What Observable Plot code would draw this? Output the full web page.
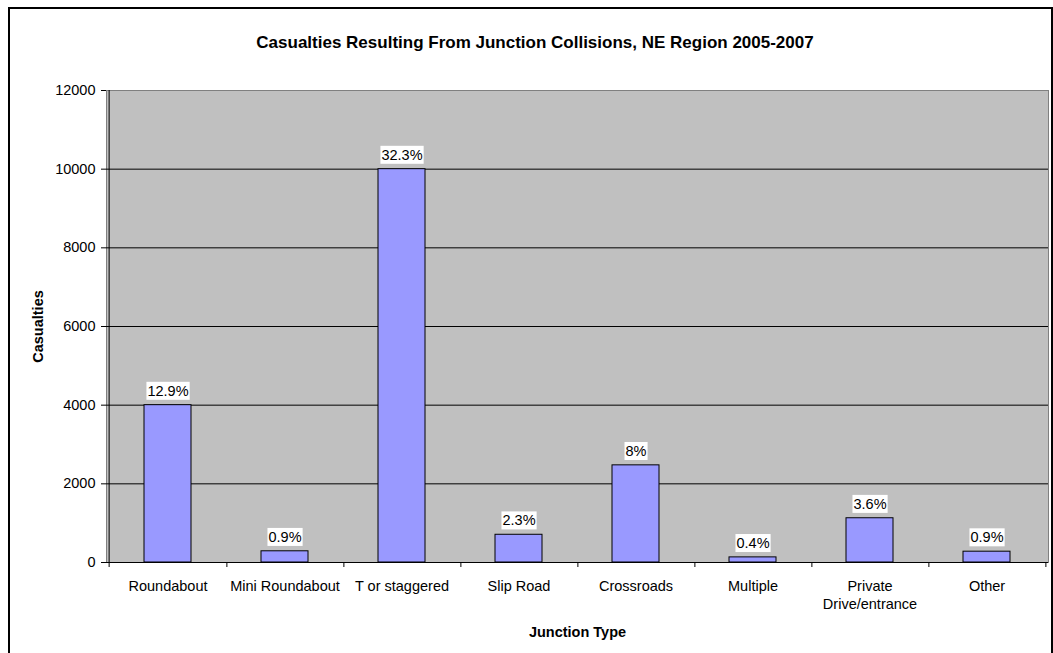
<!DOCTYPE html>
<html><head><meta charset="utf-8">
<script src="https://cdn.jsdelivr.net/npm/d3@7"></script>
<script src="https://cdn.jsdelivr.net/npm/@observablehq/plot@0.6"></script>
<style>
html,body{margin:0;padding:0;background:#fff;overflow:hidden;width:1053px;height:653px}
#wrap{position:relative;width:1053px;height:653px;font-family:"Liberation Sans",Arial,sans-serif;color:#000}
#frame{position:absolute;left:8px;top:7px;width:1041px;height:700px;border:2px solid #000;pointer-events:none}
#title{position:absolute;top:34px;left:535px;transform:translateX(-50%);font-weight:bold;font-size:17px;line-height:17px;white-space:nowrap}
#chart{position:absolute;left:0;top:0}
#chart g[aria-label="x-axis label"] text, #chart g[aria-label="y-axis label"] text{font-weight:bold}
</style></head>
<body><div id="wrap"><div id="title">Casualties Resulting From Junction Collisions, NE Region 2005-2007</div><div id="chart"></div><div id="frame"></div></div>
<script>
const categories = ["Roundabout","Mini Roundabout","T or staggered","Slip Road","Crossroads","Multiple","Private Drive/entrance","Other"];
const tickLabels = ["Roundabout","Mini Roundabout","T or staggered","Slip Road","Crossroads","Multiple","Private\nDrive/entrance","Other"];
const casualties = [4000,285,10000,705,2470,130,1125,275];
const shares = ["12.9%","0.9%","32.3%","2.3%","8%","0.4%","3.6%","0.9%"];
const yTicks = [0,2000,4000,6000,8000,10000,12000];
const gridValues = [2000,4000,6000,8000,10000];

const data = categories.map((c,i)=>({cat:c, value:casualties[i], share:shares[i]}));

const W=1053,H=653,mL=106,mR=5,mT=90,mB=91;
const step=(W-mL-mR)/categories.length;
const fs=14.5;

const plot = Plot.plot({
  width:W,height:H,marginLeft:mL,marginRight:mR,marginTop:mT,marginBottom:mB,
  style:{fontFamily:'"Liberation Sans", Arial, sans-serif',fontSize:fs+"px",color:"#000",background:"transparent",overflow:"visible"},
  x:{domain:categories,paddingInner:0.6,paddingOuter:0.3,axis:null},
  y:{domain:[0,12000],axis:null},
  marks:[
    Plot.frame({fill:"#C0C0C0",stroke:"#808080"}),
    Plot.ruleY(gridValues,{stroke:"#000"}),
    Plot.ruleY([0],{stroke:"#000"}),
    Plot.barY(data,{x:"cat",y:"value",fill:"#9999FF",stroke:"#000",strokeWidth:1}),
    Plot.ruleX([categories[0]],{x:d=>d,y1:12000,y2:0,insetBottom:-5,dx:-step/2,stroke:"#000"}),
    Plot.ruleX(categories,{x:d=>d,y1:0,y2:0,insetBottom:-5,dx:step/2,stroke:"#000"}),
    Plot.text(data,{x:"cat",y:"value",text:"share",dy:-14,lineAnchor:"middle",fill:"#000",fontSize:fs}),
    Plot.axisY({ticks:yTicks,tickSize:5,tickPadding:6,tickFormat:d=>String(d),label:"Casualties",labelAnchor:"center",labelOffset:74,labelArrow:"none",fontSize:fs}),
    Plot.axisX({tickSize:0,tickPadding:16,tickFormat:d=>tickLabels[categories.indexOf(d)],label:"Junction Type",labelAnchor:"center",labelOffset:74,lineHeight:1.24,fontSize:fs})
  ]
});
document.getElementById("chart").appendChild(plot);

// white boxes behind the percentage labels
plot.querySelectorAll('g[aria-label="text"]').forEach(g=>{
  g.querySelectorAll("text").forEach(t=>{
    const b=t.getBBox();
    const r=document.createElementNS("http://www.w3.org/2000/svg","rect");
    r.setAttribute("x",b.x-1);r.setAttribute("y",b.y-1);
    r.setAttribute("width",b.width+2);r.setAttribute("height",b.height+2);
    r.setAttribute("fill","#fff");
    const tr=t.getAttribute("transform"); if(tr) r.setAttribute("transform",tr);
    t.parentNode.insertBefore(r,t);
  });
});
</script>
</body></html>
